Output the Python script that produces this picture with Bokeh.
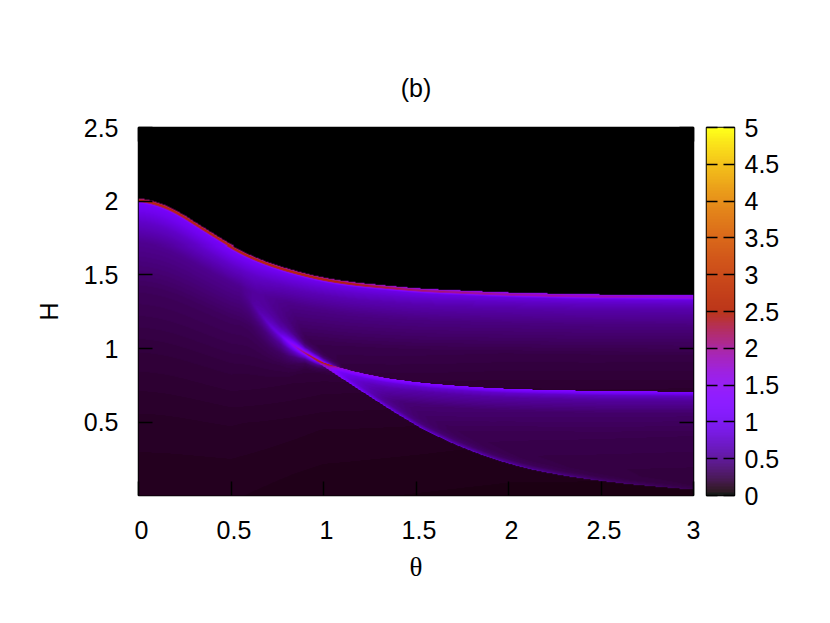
import numpy as np
from bokeh.embed import file_html
from bokeh.layouts import row
from bokeh.models import FixedTicker, LinearAxis, LinearColorMapper, Range1d
from bokeh.plotting import figure
from bokeh.resources import INLINE

TITLE = "(b)"
X_LABEL = "θ"
Y_LABEL = "H"
X_TICKS = [0, 0.5, 1, 1.5, 2, 2.5, 3]
Y_TICKS = [0.5, 1, 1.5, 2, 2.5]
CB_TICKS = [0, 0.5, 1, 1.5, 2, 2.5, 3, 3.5, 4, 4.5, 5]
CB_LABELS = {0: "0", 0.5: "0.5", 1: "1", 1.5: "1.5", 2: "2", 2.5: "2.5", 3: "3", 3.5: "3.5", 4: "4", 4.5: "4.5", 5: "5"}

# upper ridge
upper_theta = [0, 0.086, 0.19, 0.287, 0.383, 0.479, 0.575, 0.67, 0.766, 0.862, 0.996, 1.149, 1.341, 1.533, 1.724, 1.973, 2.395, 3]
upper_H = [2.01, 1.986, 1.937, 1.857, 1.783, 1.706, 1.64, 1.59, 1.548, 1.514, 1.473, 1.443, 1.419, 1.398, 1.387, 1.373, 1.36, 1.353]
upper_peak_theta = [0, 1, 1.5, 2, 2.5, 3]
upper_peak = [2.8, 2.7, 2.2, 2.0, 1.9, 1.75]
edge_offset = 0.010

# profile under the upper ridge, as a function of H / ridge height
ratio = [0.0, 0.1, 0.3, 0.5, 0.7, 0.85, 0.92, 0.95, 0.975, 0.99, 1.0]
under_left = [0.10, 0.11, 0.14, 0.20, 0.30, 0.48, 0.72, 0.90, 1.05, 1.15, 1.3]
under_right = [0.07, 0.08, 0.10, 0.14, 0.23, 0.42, 0.57, 0.68, 0.85, 1.0, 1.2]
blend_theta = [0, 0.5, 1.0, 2.0, 3]
blend = [0, 0, 0.6, 0.95, 1]

# crossing streak and the two branches that leave it
streak_theta = [0.55, 0.594, 0.67, 0.766, 0.862, 0.92, 0.996, 1.073, 1.188]
streak_H = [1.42, 1.348, 1.213, 1.088, 1.0, 0.955, 0.905, 0.878, 0.839]
mid_theta = [0.862, 0.92, 0.996, 1.073, 1.188, 1.341, 1.533, 1.724, 1.916, 2.107, 2.49, 3]
mid_H = [1.0, 0.955, 0.905, 0.878, 0.839, 0.80, 0.769, 0.749, 0.733, 0.724, 0.713, 0.708]
low_theta = [0.862, 0.92, 0.996, 1.073, 1.188, 1.341, 1.533, 1.724, 1.916, 2.107, 2.3, 2.49, 2.68, 3]
low_H = [1.0, 0.95, 0.885, 0.82, 0.726, 0.602, 0.455, 0.342, 0.251, 0.183, 0.138, 0.104, 0.077, 0.043]

streak_amp_theta = [0.55, 0.6, 0.67, 0.77, 0.85, 0.92, 0.97, 1.0, 1.05, 1.1]
streak_amp = [0.0, 0.08, 0.3, 0.7, 1.5, 2.3, 2.2, 1.4, 0.5, 0.0]
streak_width_theta = [0.6, 0.67, 0.77, 0.9, 1.0]
streak_width = [3.5, 3.0, 2.0, 0.7, 0.5]
streak_dist = [0, 0.01, 0.03, 0.06, 0.1, 0.16]
streak_shape = [1, 0.7, 0.35, 0.12, 0.03, 0]

mid_peak_theta = [0.93, 1.03, 1.2, 1.5, 2, 3]
mid_peak = [0.0, 1.6, 1.4, 1.2, 1.15, 1.1]
band_dist = [0, 0.012, 0.03, 0.06, 0.15, 0.3, 0.5, 0.7]
band_shape = [1.0, 0.8, 0.5, 0.36, 0.2, 0.14, 0.12, 0.1]
edge_amp_theta = [0.93, 1.03, 1.3, 1.7, 2, 2.5, 3]
edge_amp = [0.0, 0.7, 0.6, 0.5, 0.4, 0.2, 0.1]
edge_dist = [0, 0.012, 0.03, 0.06, 0.1]
edge_shape = [1, 0.55, 0.2, 0.06, 0]


def gnuplot_palette(n):
    x = np.linspace(0, 1, n)
    r = np.sqrt(x)
    g = x ** 3
    b = np.clip(np.sin(2 * np.pi * x), 0, 1)
    return np.stack([r, g, b], axis=1) * 255


def to_hex(rgb):
    return ["#%02x%02x%02x" % tuple(int(round(c)) for c in v) for v in rgb]


NX, NY = 555, 368
theta_c = (np.arange(NX) + 0.5) / NX * 3
H_c = (np.arange(NY) + 0.5) / NY * 2.5
T, H = np.meshgrid(theta_c, H_c)


def curve(xs, ys, k=21):
    # read points joined, with the corners of the joins eased over a few pixels
    c = np.interp(theta_c, xs, ys)
    padded = np.pad(c, k // 2, mode="edge")
    return np.convolve(padded, np.ones(k) / k, mode="valid")


Hu = curve(upper_theta, upper_H, 31)[None, :] * np.ones_like(T) + edge_offset
r = H / Hu
w = np.interp(T, blend_theta, blend)
Z = (1 - w) * np.interp(r, ratio, under_left) + w * np.interp(r, ratio, under_right)
du = Hu - H
near = np.interp(du, [0, 0.006, 0.012, 0.02, 0.026, 0.034], [0.45, 0.6, 1, 0.9, 0.25, 0])
Z = (1 - near) * Z + near * np.interp(T, upper_peak_theta, upper_peak)

Hs = curve(streak_theta, streak_H)[None, :] * np.ones_like(T)
Wd = np.interp(T, streak_width_theta, streak_width)
Z = Z + np.interp(T, streak_amp_theta, streak_amp) * np.interp(np.abs(H - Hs) / Wd, streak_dist, streak_shape)

Hm = curve(mid_theta, mid_H)[None, :] * np.ones_like(T)
Hl = curve(low_theta, low_H)[None, :] * np.ones_like(T)
inside = (T > 0.93) & (H <= Hm) & (H >= Hl)
Z = Z + inside * np.interp(T, mid_peak_theta, mid_peak) * np.interp(Hm - H, band_dist, band_shape)
Z = Z + inside * np.interp(T, edge_amp_theta, edge_amp) * np.interp(H - Hl, edge_dist, edge_shape)
Z[du < 0] = np.nan

palette = to_hex(gnuplot_palette(256))
mapper = LinearColorMapper(palette=palette, low=0, high=5, nan_color="#000000")

SANS = "Liberation Sans"
FS = "25px"

p = figure(height=600, output_backend="svg", toolbar_location=None,
           x_range=Range1d(0, 3), y_range=Range1d(0.005, 2.5),
           frame_width=555, frame_height=368, min_border_left=138, min_border_right=11,
           min_border_top=127, min_border_bottom=105,
           x_axis_location=None, y_axis_location=None,
           background_fill_color="#000000", title=TITLE)
p.grid.visible = False
p.title.align = "center"
p.title.text_font = SANS
p.title.text_font_size = FS
p.title.text_font_style = "normal"
p.title.text_color = "#000000"
p.title.standoff = 51
p.outline_line_color = "#000000"
p.outline_line_width = 1.5

p.image(image=[Z], x=0, y=0, dw=3, dh=2.5, color_mapper=mapper)

LABEL_SHIFT = 3 / 185
p.extra_x_ranges["labels"] = Range1d(-LABEL_SHIFT, 3 - LABEL_SHIFT)


def tick_axis(ticks, length=14, **kw):
    a = LinearAxis(ticker=FixedTicker(ticks=ticks), **kw)
    a.major_tick_in = length
    a.major_tick_out = 0
    a.minor_tick_line_color = None
    a.major_tick_line_color = "#000000"
    a.major_tick_line_width = 1.5
    a.axis_line_color = None
    a.major_label_text_font_size = "1px"
    a.major_label_text_color = None
    a.major_label_standoff = 0
    return a


p.add_layout(tick_axis(X_TICKS), "below")
p.add_layout(tick_axis(X_TICKS), "above")
p.add_layout(tick_axis(Y_TICKS), "right")

last = 3 - LABEL_SHIFT
xl = LinearAxis(x_range_name="labels", ticker=FixedTicker(ticks=X_TICKS[:-1] + [last]), axis_label=X_LABEL)
xl.major_label_overrides = {last: "3", 0: "0", 0.5: "0.5", 1: "1", 1.5: "1.5", 2: "2", 2.5: "2.5"}
xl.major_tick_line_color = None
xl.minor_tick_line_color = None
xl.axis_line_color = None
xl.major_tick_in = 0
xl.major_tick_out = 0
xl.major_label_text_font = SANS
xl.major_label_text_font_size = FS
xl.major_label_text_color = "#000000"
xl.major_label_standoff = 25
xl.axis_label_text_font = "Liberation Serif"
xl.axis_label_text_font_size = "27px"
xl.axis_label_text_font_style = "normal"
xl.axis_label_text_color = "#000000"
xl.axis_label_standoff = 10
p.add_layout(xl, "below")

yl = tick_axis(Y_TICKS, axis_label=Y_LABEL)
yl.major_label_text_font = SANS
yl.major_label_text_font_size = FS
yl.major_label_text_color = "#000000"
yl.major_label_standoff = 20
yl.axis_label_text_font = SANS
yl.axis_label_text_font_size = FS
yl.axis_label_text_font_style = "normal"
yl.axis_label_text_color = "#000000"
yl.axis_label_standoff = 18
p.add_layout(yl, "left")

# colour bar
ramp = np.linspace(0, 5, 128).reshape(-1, 1)
base = gnuplot_palette(128)
striped = base * 0.9 + 255 * 0.1
bar_mapper = LinearColorMapper(palette=to_hex(striped), low=0, high=5)
cb = figure(height=600, output_backend="svg", toolbar_location=None,
            x_range=Range1d(0, 1), y_range=Range1d(0, 5),
            frame_width=28, frame_height=368, min_border_left=2, min_border_right=68,
            min_border_top=127, min_border_bottom=105,
            x_axis_location=None, y_axis_location=None)
cb.grid.visible = False
cb.outline_line_color = "#000000"
cb.outline_line_width = 1.5
cb.image(image=[ramp], x=0, y=0, dw=1, dh=5, color_mapper=bar_mapper)
cb.add_layout(tick_axis(CB_TICKS, length=11), "left")
cr = tick_axis(CB_TICKS, length=11)
cr.major_label_overrides = CB_LABELS
cr.major_label_text_font = SANS
cr.major_label_text_font_size = FS
cr.major_label_text_color = "#000000"
cr.major_label_standoff = 10
cb.add_layout(cr, "right")

layout = row(p, cb, spacing=0)
open("out.html", "w").write(file_html(layout, INLINE))
